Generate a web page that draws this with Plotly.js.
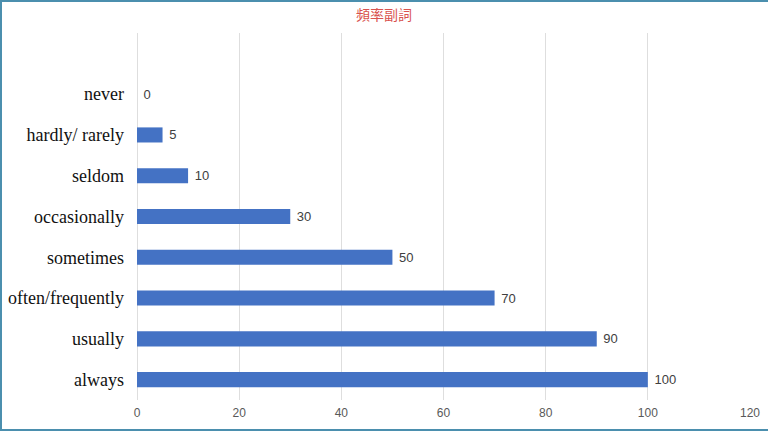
<!DOCTYPE html>
<html>
<head>
<meta charset="utf-8">
<script src="https://cdn.plot.ly/plotly-3.0.1.min.js"></script>
<style>
  html, body { margin: 0; padding: 0; background: #fff; }
  #wrap { position: relative; width: 768px; height: 431px; }
  #chart { width: 768px; height: 431px; }
  /* thin frame around the picture */
  #frame {
    position: absolute; left: 0; top: 0; width: 768px; height: 431px;
    box-sizing: border-box; border-top: 2px solid #4b8fae;
    border-left: 2px solid #4b8fae; border-bottom: 2px solid #4b8fae;
    pointer-events: none;
  }
</style>
</head>
<body>
<div id="wrap">
  <div id="chart"></div>
  <div id="frame"></div>
</div>
<script>
// Frequency adverbs, bottom to top
const adverbs = ['always', 'usually', 'often/frequently', 'sometimes', 'occasionally', 'seldom', 'hardly/ rarely', 'never'];
const frequency = [100, 90, 70, 50, 30, 10, 5, 0];
const xTicks = [0, 20, 40, 60, 80, 100, 120];

const trace = {
    type: 'bar',
    orientation: 'h',
    y: adverbs,
    x: frequency,
    width: 0.37,
    marker: { color: '#4472c4' },
    text: frequency.map(v => ' ' + v),
    textposition: 'outside',
    cliponaxis: false,
    textfont: { family: 'Liberation Sans, Arial, sans-serif', size: 13, color: '#404040' },
    hoverinfo: 'none'
};

const layout = {
    width: 768,
    height: 431,
    margin: { l: 137, r: 18, t: 33, b: 31 },
    paper_bgcolor: '#fff',
    plot_bgcolor: '#fff',
    showlegend: false,
    title: {
        text: '頻率副詞',
        font: { family: 'Noto Sans CJK TC, sans-serif', size: 14, color: '#d9534f' },
        x: 0.5, xanchor: 'center',
        y: 0.965, yanchor: 'middle'
    },
    xaxis: {
        range: [0, 120],
        tickvals: xTicks,
        ticktext: xTicks.map(String),
        showgrid: true,
        gridcolor: '#dedede',
        gridwidth: 1,
        zeroline: true,
        zerolinecolor: '#dedede',
        showline: false,
        ticks: '',
        ticklabelstandoff: 4,
        tickfont: { family: 'Liberation Sans, Arial, sans-serif', size: 12, color: '#595959' },
        fixedrange: true
    },
    yaxis: {
        type: 'category',
        categoryorder: 'array',
        categoryarray: adverbs,
        range: [-0.5, 8.5],
        showgrid: false,
        zeroline: false,
        showline: false,
        ticks: '',
        ticklabelstandoff: 12,
        tickfont: { family: 'Liberation Serif, Times New Roman, serif', size: 18, color: '#111' },
        fixedrange: true
    }
};

Plotly.newPlot('chart', [trace], layout, { staticPlot: true, displayModeBar: false });
</script>
</body>
</html>
